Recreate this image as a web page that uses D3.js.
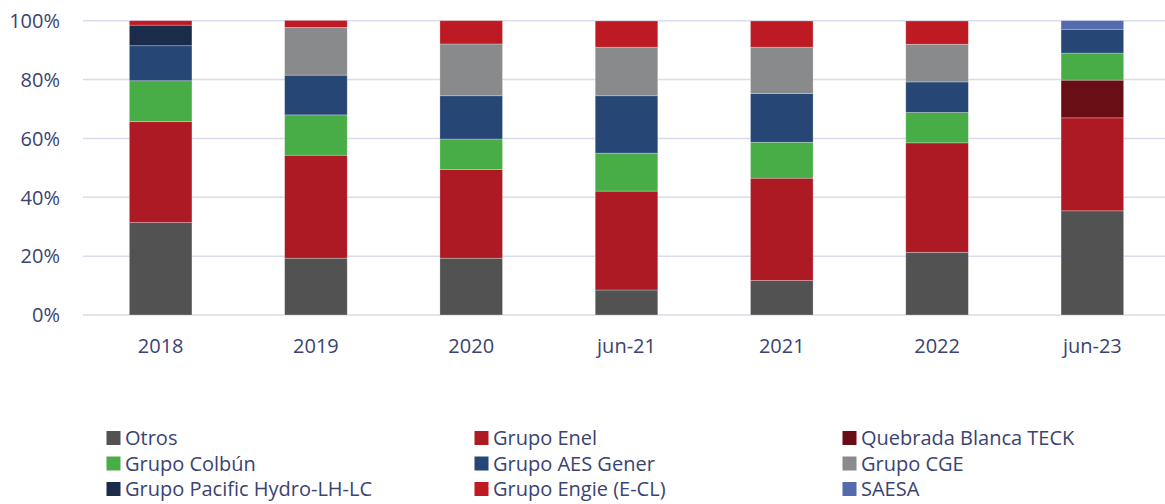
<!DOCTYPE html>
<html>
<head>
<meta charset="utf-8">
<script src="https://cdn.jsdelivr.net/npm/d3@7/dist/d3.min.js"></script>
<style>
  html, body { margin: 0; padding: 0; background: #fff; }
  svg { display: block; font-family: "Open Sans", "Noto Sans", sans-serif; }
</style>
</head>
<body>
<svg id="chart" width="1165" height="504"></svg>
<script>
// ---- Data ----
const categories = ["2018", "2019", "2020", "jun-21", "2021", "2022", "jun-23"];
const seriesNames = ["Otros", "Grupo Enel", "Quebrada Blanca TECK", "Grupo Colbún", "Grupo AES Gener",
  "Grupo CGE", "Grupo Pacific Hydro-LH-LC", "Grupo Engie (E-CL)", "SAESA"];
const otros      = [31.4, 19.3, 19.3,  8.5, 11.7, 21.3, 35.4];
const enel       = [34.3, 35.0, 30.1, 33.6, 34.8, 37.2, 31.6];
const quebrada   = [ 0,    0,    0,    0,    0,    0,   12.8];
const colbun     = [13.9, 13.7, 10.4, 12.9, 12.2, 10.3,  9.2];
const aesGener   = [11.9, 13.5, 14.7, 19.5, 16.6, 10.4,  8.1];
const cge        = [ 0,   16.2, 17.6, 16.5, 15.7, 12.8,  0  ];
const pacific    = [ 7.0,  0,    0,    0,    0,    0,    0  ];
const engie      = [ 1.5,  2.4,  7.9,  8.9,  8.9,  7.9,  0  ];
const saesa      = [ 0,    0,    0,    0,    0,    0,    2.9];
const yTicks = [0, 20, 40, 60, 80, 100];
const colors = ["#515251", "#AE1A24", "#6A0E16", "#48AD47", "#264675", "#898A8B", "#1B2B4A", "#BD1A23", "#5469AE"];

const seriesValues = [otros, enel, quebrada, colbun, aesGener, cge, pacific, engie, saesa];
const table = categories.map((c, i) => {
  const row = { cat: c };
  seriesNames.forEach((s, j) => { row[s] = seriesValues[j][i]; });
  return row;
});

(function () {
// ---- Layout ----
const svg = d3.select("#chart");
const pLeft = 83, pRight = 1170, pTop = 20.7, pBottom = 315;
const fs = "20px";

const x = d3.scaleBand().domain(categories).range([pLeft, pRight]).paddingInner(0.597).paddingOuter(0.2985);
const y = d3.scaleLinear().domain([0, 100]).range([pBottom, pTop]);

const textColor = "#3A4371";

// gridlines
svg.append("g").selectAll("line").data(yTicks).join("line")
  .attr("x1", pLeft).attr("x2", 1165)
  .attr("y1", d => y(d)).attr("y2", d => y(d))
  .attr("stroke", "#D9DCEC").attr("stroke-width", 1.5);

// y axis labels
const yAxis = d3.axisLeft(y).tickValues(yTicks).tickFormat(d => d + "%").tickSize(0).tickPadding(0);
const yg = svg.append("g").attr("transform", `translate(${60},0)`).call(yAxis);
yg.select(".domain").remove();
yg.selectAll("text").attr("fill", textColor).style("font-size", fs).attr("dy", "0.34em");

// x axis labels
const xAxis = d3.axisBottom(x).tickSize(0).tickPadding(0);
const xg = svg.append("g").attr("transform", `translate(0,${339})`).call(xAxis);
xg.select(".domain").remove();
xg.selectAll("text").attr("fill", textColor).style("font-size", fs).attr("dy", "0.71em");
yg.attr("font-family", null); xg.attr("font-family", null);

// stacked bars
const stack = d3.stack().keys(seriesNames);
const stacked = stack(table);
svg.append("g").selectAll("g").data(stacked).join("g")
  .attr("fill", (d, i) => colors[i])
  .selectAll("rect").data(d => d.map(v => ({ v, cat: v.data.cat }))).join("rect")
  .attr("x", d => x(d.cat))
  .attr("width", x.bandwidth())
  .attr("y", d => y(d.v[1]))
  .attr("height", d => Math.max(0, y(d.v[0]) - y(d.v[1])))
  .attr("stroke", "#ffffff").attr("stroke-opacity", 0.35).attr("stroke-width", 0.75);

// legend
const legendCols = [106.5, 474.5, 842.5];
const legendRows = [438, 463.5, 489];
const lg = svg.append("g");
seriesNames.forEach((s, i) => {
  const cx = legendCols[i % 3], cy = legendRows[Math.floor(i / 3)];
  lg.append("rect").attr("x", cx).attr("y", cy - 7).attr("width", 14).attr("height", 14).attr("fill", colors[i]);
  lg.append("text").attr("x", cx + 18.5).attr("y", cy).attr("dy", "0.35em")
    .attr("fill", textColor).style("font-size", fs).text(s);
});
})();
</script>
</body>
</html>
